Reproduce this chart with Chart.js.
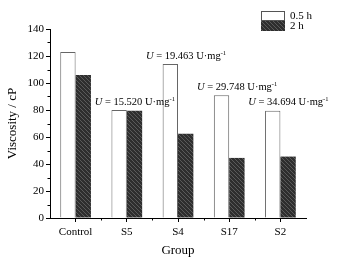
<!DOCTYPE html>
<html>
<head>
<meta charset="utf-8">
<script src="https://cdn.jsdelivr.net/npm/chart.js@4"></script>
<style>
  html, body { margin: 0; padding: 0; background: #fff; }
  #wrap { width: 348px; height: 262px; }
</style>
</head>
<body>
<div id="wrap"><canvas id="chart" width="348" height="262"></canvas></div>
<script>
const groups = ['Control', 'S5', 'S4', 'S17', 'S2'];
const values05h = [123, 80, 114, 91, 79.5];
const values2h = [106, 79.5, 62.5, 44.5, 45.5];
const seriesNames = ['0.5 h', '2 h'];
// enzyme activity labels, one per group (none for Control)
const activity = [null, '15.520', '19.463', '29.748', '34.694'];
const yTicks = [0, 20, 40, 60, 80, 100, 120, 140];

const FONT = '"Liberation Serif", "Times New Roman", serif';

// hatched dark fill like the original
function makeHatch() {
  const c = document.createElement('canvas');
  c.width = 4; c.height = 4;
  const g = c.getContext('2d');
  g.fillStyle = '#2e2e2e';
  g.fillRect(0, 0, 4, 4);
  g.strokeStyle = '#5a5a5a';
  g.lineWidth = 1;
  g.beginPath();
  g.moveTo(0, 0); g.lineTo(4, 4);
  g.moveTo(-2, 2); g.lineTo(2, 6);
  g.moveTo(2, -2); g.lineTo(6, 2);
  g.stroke();
  return g.createPattern(c, 'repeat');
}
const hatch = makeHatch();

const extras = {
  id: 'extras',
  afterDraw(chart) {
    const ctx = chart.ctx;
    const x = chart.scales.x, y = chart.scales.y;
    ctx.save();
    ctx.strokeStyle = '#000';
    ctx.lineWidth = 1;
    // minor ticks
    ctx.beginPath();
    for (let v = 10; v < 140; v += 20) {
      const py = Math.round(y.getPixelForValue(v)) + 0.5;
      ctx.moveTo(x.left, py); ctx.lineTo(x.left - 2.5, py);
    }
    for (let i = 0; i < groups.length - 1; i++) {
      const px = Math.round((x.getPixelForValue(i) + x.getPixelForValue(i + 1)) / 2) + 0.5;
      ctx.moveTo(px, y.bottom); ctx.lineTo(px, y.bottom + 2.5);
    }
    ctx.stroke();

    // activity annotations
    ctx.fillStyle = '#000';
    ctx.textBaseline = 'alphabetic';
    const fs = 10.5;
    activity.forEach((a, i) => {
      if (!a) return;
      const top = Math.min(y.getPixelForValue(values05h[i]), y.getPixelForValue(values2h[i]));
      const cx = x.getPixelForValue(i) + 8;
      const base = top - 5.5;
      ctx.font = 'italic ' + fs + 'px ' + FONT;
      const w1 = ctx.measureText('U').width;
      ctx.font = fs + 'px ' + FONT;
      const mid = ' = ' + a + ' U\u00b7mg';
      const w2 = ctx.measureText(mid).width;
      ctx.font = '6.5px ' + FONT;
      const w3 = ctx.measureText('-1').width;
      let sx = cx - (w1 + w2 + w3) / 2;
      ctx.textAlign = 'left';
      ctx.font = 'italic ' + fs + 'px ' + FONT;
      ctx.fillText('U', sx, base);
      ctx.font = fs + 'px ' + FONT;
      ctx.fillText(mid, sx + w1, base);
      ctx.font = '6.5px ' + FONT;
      ctx.fillText('-1', sx + w1 + w2, base - 4);
    });

    // legend
    const lx = 261, ly = 11, bw = 24, bh = 10;
    ctx.fillStyle = '#fff';
    ctx.fillRect(lx, ly, bw, bh);
    ctx.strokeStyle = '#555';
    ctx.strokeRect(lx + 0.5, ly + 0.5, bw - 1, bh - 1);
    ctx.fillStyle = hatch;
    ctx.fillRect(lx, ly + bh, bw, bh);
    ctx.fillStyle = '#000';
    ctx.font = '11px ' + FONT;
    ctx.textBaseline = 'middle';
    ctx.fillText(seriesNames[0], lx + bw + 5, ly + bh / 2);
    ctx.fillText(seriesNames[1], lx + bw + 5, ly + bh * 1.5);
    ctx.restore();
  }
};

new Chart(document.getElementById('chart'), {
  type: 'bar',
  data: {
    labels: groups,
    datasets: [
      {
        label: seriesNames[0],
        data: values05h,
        backgroundColor: '#fff',
        borderColor: '#666',
        borderWidth: 1,
        borderSkipped: 'bottom'
      },
      {
        label: seriesNames[1],
        data: values2h,
        backgroundColor: hatch,
        borderWidth: 0
      }
    ]
  },
  options: {
    responsive: false,
    animation: false,
    events: [],
    layout: { padding: { left: 0, top: 29, right: 42, bottom: 0 } },
    datasets: { bar: { categoryPercentage: 0.6, barPercentage: 1 } },
    plugins: { legend: { display: false }, tooltip: { enabled: false } },
    scales: {
      x: {
        grid: { display: true, drawOnChartArea: false, drawTicks: true, tickLength: 4, color: '#000', offset: false },
        border: { display: true, color: '#000', width: 1 },
        ticks: { color: '#000', font: { family: FONT, size: 11 }, padding: 4, maxRotation: 0 },
        title: { display: true, text: 'Group', color: '#000', font: { family: FONT, size: 13 }, padding: { top: 5 } },
        afterFit(s) { s.height = 44; }
      },
      y: {
        min: 0, max: 140,
        afterBuildTicks(s) { s.ticks = yTicks.map(v => ({ value: v })); },
        grid: { display: true, drawOnChartArea: false, drawTicks: true, tickLength: 4, color: '#000' },
        border: { display: true, color: '#000', width: 1 },
        ticks: { color: '#000', font: { family: FONT, size: 11 }, padding: 2 },
        title: { display: true, text: 'Viscosity / cP', color: '#000', font: { family: FONT, size: 13 }, padding: { top: 5, bottom: 2 } },
        afterFit(s) { s.width = 50; }
      }
    }
  },
  plugins: [extras]
});
</script>
</body>
</html>
